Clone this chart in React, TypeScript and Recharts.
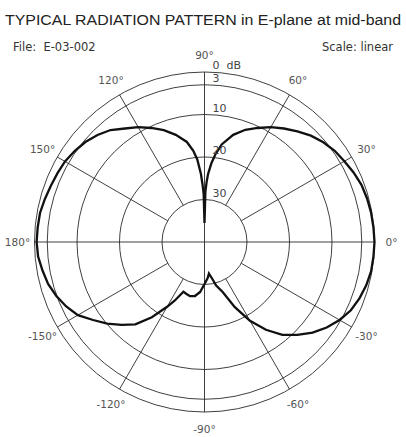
import React from "react";
import {
  RadarChart,
  PolarGrid,
  PolarAngleAxis,
  PolarRadiusAxis,
  Radar,
} from "recharts";

const angles = [
  -180, -175, -170, -165, -160, -155, -150, -145, -140, -135,
  -130, -125, -120, -117, -113, -110, -105, -100, -95, -90,
  -85, -82, -78, -75, -70, -65, -60, -55, -50, -45,
  -40, -35, -30, -25, -20, -15, -10, -5, 0, 5,
  10, 15, 20, 25, 30, 35, 40, 45, 50, 55,
  60, 65, 70, 75, 80, 83, 85, 87, 88, 89,
  90, 91, 92, 93, 95, 97, 100, 105, 110, 115,
  120, 125, 130, 135, 140, 145, 150, 155, 160, 165,
  170, 175,
];
const levels = [
  -0.5, -0.7, -1.3, -1.9, -2.9, -4.1, -5.6, -8.0, -10.1, -12.4,
  -14.7, -18.4, -22.4, -24.5, -27.3, -27.1, -26.8, -27.1, -28.2, -30.1,
  -31.5, -32.5, -31.1, -29.4, -27.5, -23.1, -18.6, -14.8, -11.5, -9.1,
  -6.8, -4.9, -3.3, -2.0, -1.2, -0.6, -0.2, -0.1, 0, -0.1,
  -0.2, -0.4, -0.7, -1.3, -2.0, -2.6, -3.5, -4.6, -6.0, -7.4,
  -8.8, -10.4, -11.9, -13.9, -16.7, -19.3, -21.4, -24.0, -25.9, -28.2,
  -35.5, -28.7, -26.4, -24.0, -20.5, -18.4, -16.1, -13.9, -12.0, -10.4,
  -8.8, -7.4, -5.6, -4.4, -3.4, -2.7, -2.1, -1.8, -1.5, -1.1,
  -0.7, -0.6,
];

const angleTicks = [-150, -120, -90, -60, -30, 0, 30, 60, 90, 120, 150, 180];
const dbRings = [-30, -20, -10, -3, 0];
const axisAngles = [0, 90, 180, 270];
const spokeAngles = [30, 60, 120, 150, 210, 240, 300, 330];

const data = angles.map((a, i) => ({ angle: a, level: levels[i] }));

const W = 406;
const H = 437;
const CX = 204.5;
const CY = 242;
const R = 170;
const FONT = "'DejaVu Sans', sans-serif";
const GRID = "#2a2a2a";

const AngleTick = (props: any) => {
  const { x, y, payload } = props;
  return (
    <text
      x={x}
      y={y}
      textAnchor="middle"
      dominantBaseline="central"
      fontSize={10.5}
      fontFamily={FONT}
      fill="#555"
    >
      {`${payload.value}°`}
    </text>
  );
};

const DbTick = (props: any) => {
  const { x, y, payload } = props;
  const v = payload.value;
  return (
    <text x={x + 8} y={y - 3} fontSize={11} fontFamily={FONT} fill="#444">
      {v === 0 ? "0\u00a0 dB" : String(Math.abs(v))}
    </text>
  );
};

export default function App() {
  return (
    <div
      style={{
        position: "absolute",
        left: 0,
        top: 0,
        width: W,
        height: H,
        background: "#fff",
      }}
    >
      <svg
        width={W}
        height={H}
        style={{ position: "absolute", left: 0, top: 0 }}
        fontFamily={FONT}
      >
        <text
          x={5}
          y={25}
          fontSize={15.5}
          fontFamily="'Liberation Sans', Arial, sans-serif"
          fill="#222"
          textLength={396}
          lengthAdjust="spacingAndGlyphs"
        >
          TYPICAL RADIATION PATTERN in E-plane at mid-band
        </text>
        <text x={13} y={51} fontSize={11.5} fill="#333">
          {"File:\u00a0 E-03-002"}
        </text>
        <text x={393} y={51} fontSize={11.5} fill="#333" textAnchor="end">
          Scale: linear
        </text>
      </svg>

      <div style={{ position: "absolute", left: 0, top: 0 }}>
        <RadarChart
          width={W}
          height={H}
          cx={CX}
          cy={CY}
          innerRadius={0}
          outerRadius={R}
          startAngle={-180}
          endAngle={180}
          data={data}
          margin={{ top: 0, right: 0, bottom: 0, left: 0 }}
        >
          <PolarGrid
            gridType="circle"
            polarAngles={axisAngles}
            polarRadius={[]}
            stroke={GRID}
            strokeWidth={0.9}
          />
        </RadarChart>
      </div>

      <div style={{ position: "absolute", left: 0, top: 0 }}>
        <RadarChart
          width={W}
          height={H}
          cx={CX}
          cy={CY}
          innerRadius={R / 4}
          outerRadius={R}
          startAngle={-180}
          endAngle={180}
          data={data}
          margin={{ top: 0, right: 0, bottom: 0, left: 0 }}
        >
          <PolarGrid
            gridType="circle"
            polarAngles={spokeAngles}
            stroke={GRID}
            strokeWidth={0.9}
          />
          <PolarAngleAxis
            dataKey="angle"
            type="number"
            domain={[-180, 180]}
            ticks={angleTicks as any}
            axisLine={false}
            tickLine={false}
            tickSize={17}
            tick={<AngleTick />}
          />
          <PolarRadiusAxis
            angle={90}
            type="number"
            domain={[-30, 0]}
            ticks={dbRings as any}
            allowDataOverflow
            axisLine={false}
            tickLine={false}
            tick={<DbTick />}
          />
          <Radar
            dataKey="level"
            stroke="#111"
            strokeWidth={2.3}
            fill="none"
            fillOpacity={0}
            dot={false}
            isAnimationActive={false}
          />
        </RadarChart>
      </div>
    </div>
  );
}
